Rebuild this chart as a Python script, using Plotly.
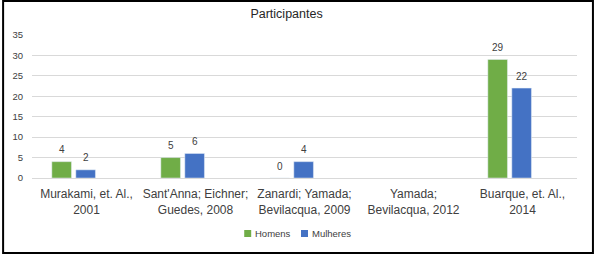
import plotly.graph_objects as go

categories = ["Murakami, et. Al.,<br>2001", "Sant'Anna; Eichner;<br>Guedes, 2008",
              "Zanardi; Yamada;<br>Bevilacqua, 2009", "Yamada;<br>Bevilacqua, 2012",
              "Buarque, et. Al.,<br>2014"]
series_names = ["Homens", "Mulheres"]
homens = [4, 5, 0, None, 29]
mulheres = [2, 6, 4, None, 22]
colors = ["#70AD47", "#4472C4"]

W, H = 594, 254
ml, mr, mt, mb = 30, 17, 35, 76
pw, ph = W - ml - mr, H - mt - mb

def px_x(p):
    return (p - ml) / pw

def px_y(p):
    return (mt + ph - p) / ph

bar_w = 0.18
offsets = [-0.318, -0.098]

fig = go.Figure()
annotations = []
for name, vals, col, off in zip(series_names, [homens, mulheres], colors, offsets):
    fig.add_trace(go.Bar(x=list(range(len(categories))), y=vals, name=name, marker_color=col,
                         width=bar_w, offset=off, showlegend=False))
    for i, v in enumerate(vals):
        if v is None:
            continue
        annotations.append(dict(x=i + off + bar_w / 2, y=v, xref="x", yref="y", text=str(v),
                                showarrow=False, yshift=12, xanchor="center", yanchor="middle",
                                font=dict(size=10, color="#404040")))

# legend (manual, compact like the reference)
legend_items = [(series_names[0], colors[0], 243, 252), (series_names[1], colors[1], 300, 309)]
shapes = []
for name, col, sq_x, tx in legend_items:
    shapes.append(dict(type="rect", xref="paper", yref="paper",
                       x0=px_x(sq_x), x1=px_x(sq_x + 7), y0=px_y(237), y1=px_y(230),
                       fillcolor=col, line=dict(width=0)))
    annotations.append(dict(x=px_x(tx), y=px_y(233.5), xref="paper", yref="paper", text=name,
                            showarrow=False, xanchor="left", yanchor="middle",
                            font=dict(size=9.5, color="#404040")))

shapes.append(dict(type="rect", xref="paper", yref="paper",
                   x0=px_x(1), x1=px_x(W - 1), y0=px_y(H - 1), y1=px_y(1),
                   line=dict(color="black", width=2), fillcolor="rgba(0,0,0,0)", layer="above"))

fig.update_layout(
    width=W, height=H, autosize=False,
    margin=dict(l=ml, r=mr, t=mt, b=mb),
    paper_bgcolor="white", plot_bgcolor="white",
    font=dict(family="Liberation Sans, Arial, sans-serif", color="#404040"),
    title=dict(text="Participantes", x=px_x(285.5), xanchor="center", xref="paper",
               y=1 - 14 / H, yanchor="middle", font=dict(size=12.5, color="#262626")),
    barmode="overlay",
    showlegend=False,
    xaxis=dict(range=[-0.5, len(categories) - 0.5], tickmode="array",
               tickvals=list(range(len(categories))), ticktext=categories,
               showgrid=False, showline=False, ticks="", ticklabelstandoff=7,
               tickfont=dict(size=12, color="#404040")),
    yaxis=dict(range=[0, 35], dtick=5, showgrid=True, gridcolor="#D9D9D9", gridwidth=1,
               zeroline=True, zerolinecolor="#D9D9D9", zerolinewidth=1,
               tickfont=dict(size=9.5, color="#404040"), ticks="", ticklabelstandoff=8),
    annotations=annotations,
    shapes=shapes,
)
fig.write_html("out.html", config={"displayModeBar": False},
               post_script="document.body.style.margin='0';document.body.style.overflow='hidden';")
